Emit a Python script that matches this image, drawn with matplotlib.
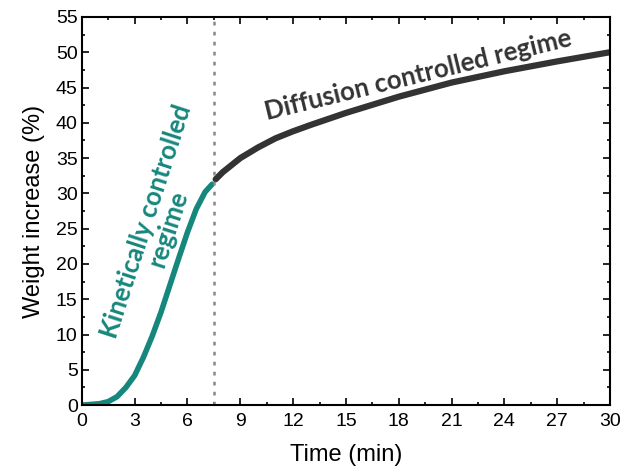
import numpy as np
import matplotlib.pyplot as plt
from matplotlib.ticker import MultipleLocator

# kinetic regime (teal)
kin_t = [0, 0.5, 1, 1.5, 2, 2.5, 3, 3.5, 4, 4.5, 5, 5.5, 6, 6.5, 7, 7.4]
kin_w = [0, 0.1, 0.2, 0.5, 1.2, 2.5, 4.2, 6.8, 9.8, 13.2, 17.0, 20.8, 24.5, 27.8, 30.2, 31.3]

# diffusion regime (dark)
dif_t = [7.6, 8, 9, 10, 11, 12, 13, 15, 18, 21, 24, 27, 30]
dif_w = [32.0, 33.0, 35.0, 36.5, 37.8, 38.8, 39.7, 41.4, 43.7, 45.7, 47.3, 48.7, 50.0]

teal = '#16877d'
dark = '#333333'

plt.rcParams['font.family'] = ['Liberation Sans', 'DejaVu Sans']
fig = plt.figure(figsize=(6.2, 4.7), dpi=100)
ax = fig.add_axes([0.132, 0.138, 0.852, 0.826])

ax.plot(kin_t, kin_w, color=teal, lw=4, solid_capstyle='round')
ax.plot(dif_t, dif_w, color=dark, lw=4.5, solid_capstyle='round')
ax.axvline(7.5, color='#888888', ls=(0, (1.5, 2.5)), lw=1.8)

ax.text(4.26, 25.5, 'Kinetically controlled\nregime', color=teal, fontsize=18.5,
        fontweight='bold', family='Lato', style='normal', rotation=72,
        ha='center', va='center', rotation_mode='anchor', linespacing=0.95)
ax.text(19.1, 46.7, 'Diffusion controlled regime', color=dark, fontsize=18.5,
        fontweight='bold', family='Lato', style='normal', rotation=13.7,
        ha='center', va='center', rotation_mode='anchor')

ax.set_xlim(0, 30)
ax.set_ylim(0, 55)
ax.xaxis.set_major_locator(MultipleLocator(3))
ax.xaxis.set_minor_locator(MultipleLocator(1.5))
ax.yaxis.set_major_locator(MultipleLocator(5))
ax.yaxis.set_minor_locator(MultipleLocator(2.5))
ax.tick_params(which='both', direction='in', top=True, right=True, labelsize=14, width=1.2)
ax.tick_params(which='major', length=5)
ax.tick_params(which='minor', length=2.5)
ax.tick_params(axis='x', pad=6)
ax.tick_params(axis='y', pad=3)
for s in ax.spines.values():
    s.set_linewidth(1.5)

ax.set_xlabel('Time (min)', fontsize=17, labelpad=10)
ax.set_ylabel('Weight increase (%)', fontsize=17, labelpad=8)

fig.savefig('out.png', dpi=100)
